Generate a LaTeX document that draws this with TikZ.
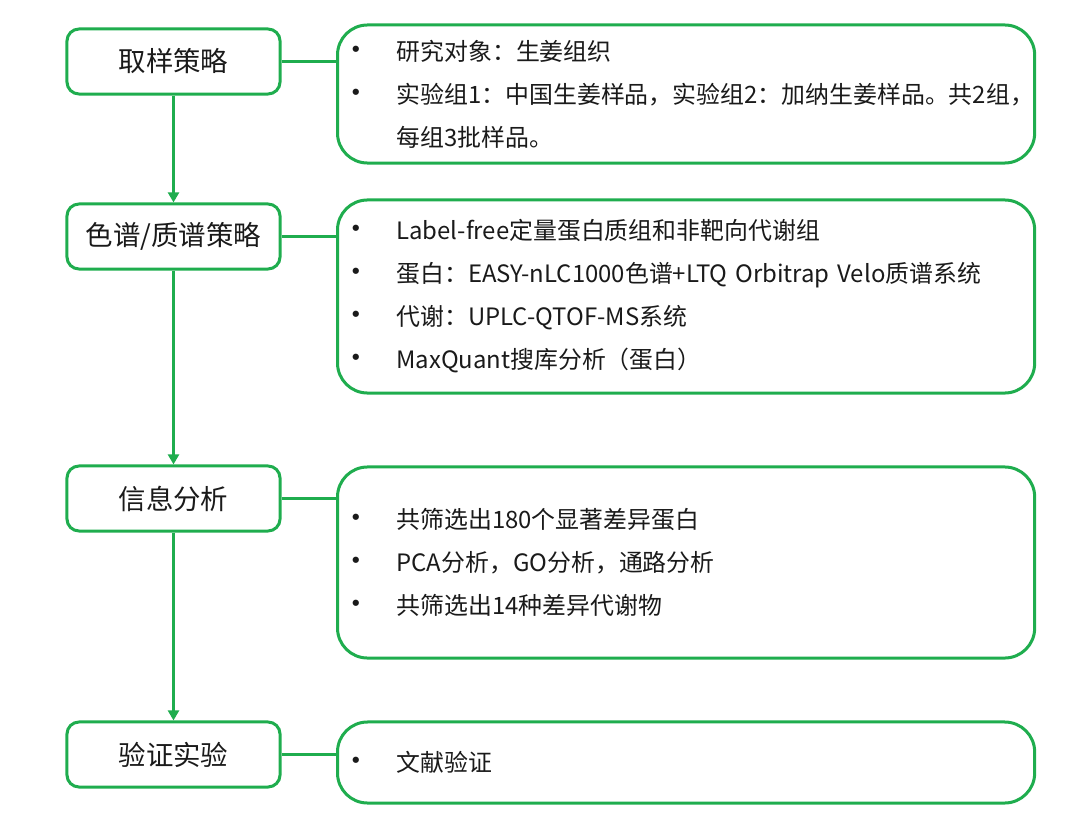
\documentclass[tikz,border=0pt]{standalone}
\usepackage{fontspec}
\setmainfont{Noto Sans CJK SC}
\usepackage{xcolor}
\usepackage{tikz}
\usetikzlibrary{arrows.meta,positioning}
\definecolor{leafgreen}{HTML}{1FAD4E}
\definecolor{inkgray}{HTML}{1A1A1A}
\newcommand{\bul}{\makebox[1.175cm][l]{\hspace*{-0.2cm}{\fontsize{21pt}{0pt}\selectfont•}}}

\begin{document}
\begin{tikzpicture}[
    x=0.025cm, y=-0.025cm,
    stage/.style={draw=leafgreen, line width=0.075cm, rounded corners=0.3cm, fill=white,
                  minimum width=5.325cm, minimum height=1.625cm, align=center,
                  text=inkgray, font=\fontsize{19.5pt}{23pt}\selectfont},
    detail/.style={draw=leafgreen, line width=0.075cm, rounded corners=0.75cm, fill=white,
                   anchor=west, inner xsep=0.3cm, text width=16.825cm, align=left,
                   text=inkgray, font=\fontsize{17pt}{30.6pt}\selectfont},
    flow/.style={-{Triangle[length=0.25cm,width=0.27cm]}, draw=leafgreen, line width=0.075cm},
    link/.style={draw=leafgreen, line width=0.075cm}
]
    \useasboundingbox (0,0) rectangle (1070,820);

    \node[stage] (sampling) at (173.5,61.5) {取样策略};
    \node[stage] (ms) at (173.5,236.5) {色谱/质谱策略};
    \node[stage] (info) at (173.5,498.5) {信息分析};
    \node[stage] (verify) at (173.5,754.5) {验证实验};

    \node[detail, minimum height=3.45cm] (sampnote) at (336,94)
        {\bul 研究对象：生姜组织\\
         \bul 实验组1：中国生姜样品，实验组2：加纳生姜样品。共2组，\\
         \hspace*{1.175cm}每组3批样品。};
    \node[detail, minimum height=4.825cm] (msnote) at (336,296.5)
        {\bul Label-free定量蛋白质组和非靶向代谢组\\
         \bul 蛋白：EASY-nLC1000色谱+LTQ Orbitrap Velo质谱系统\\
         \bul 代谢：UPLC-QTOF-MS系统\\
         \bul MaxQuant搜库分析（蛋白）};
    \node[detail, minimum height=4.775cm] (infonote) at (336,562.5)
        {\bul 共筛选出180个显著差异蛋白\\
         \bul PCA分析，GO分析，通路分析\\
         \bul 共筛选出14种差异代谢物};
    \node[detail, minimum height=2.025cm] (verifynote) at (336,762.5)
        {\bul 文献验证};

    \draw[flow] (sampling) -- (ms);
    \draw[flow] (ms) -- (info);
    \draw[flow] (info) -- (verify);

    \draw[link] (sampling.east) -- (sampling.east -| sampnote.west);
    \draw[link] (ms.east) -- (ms.east -| msnote.west);
    \draw[link] (info.east) -- (info.east -| infonote.west);
    \draw[link] (verify.east) -- (verify.east -| verifynote.west);
\end{tikzpicture}
\end{document}
